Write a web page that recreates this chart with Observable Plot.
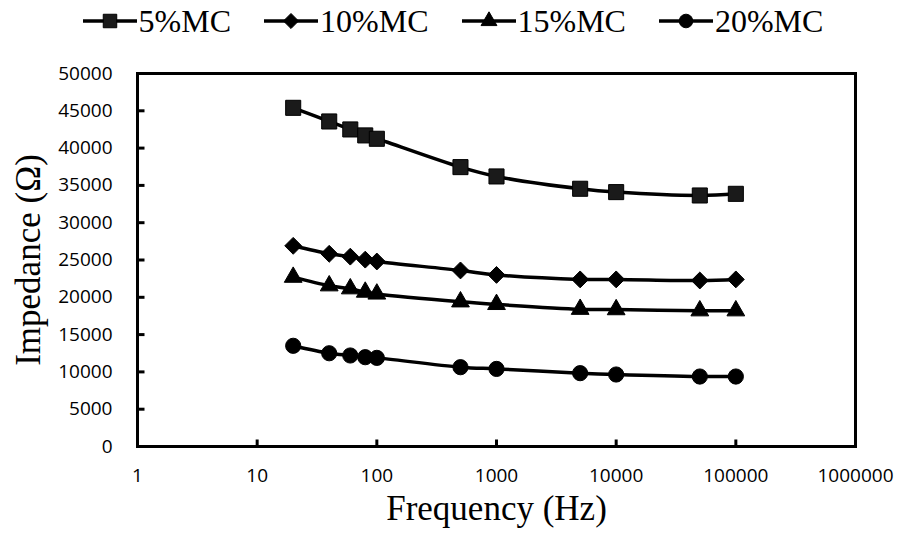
<!DOCTYPE html>
<html><head><meta charset="utf-8">
<script src="https://cdn.jsdelivr.net/npm/d3@7"></script>
<script src="https://cdn.jsdelivr.net/npm/@observablehq/plot@0.6"></script>
<style>
body{margin:0;background:#fff;}
#legend{display:flex;justify-content:center;gap:33px;height:42px;align-items:center;font-family:"Liberation Serif",serif;font-size:32px;color:#000;}
.item{display:flex;align-items:center;gap:2px;}
</style>
</head><body>
<div id="legend"></div>
<div id="chart"></div>
<script>
const freq = [20, 40, 60, 80, 100, 500, 1000, 5000, 10000, 50000, 100000];
const mc5  = [45400, 43570, 42500, 41700, 41250, 37450, 36200, 34550, 34100, 33650, 33870];
const mc10 = [26900, 25830, 25450, 25050, 24800, 23600, 23000, 22400, 22400, 22250, 22400];
const mc15 = [22700, 21550, 21150, 20700, 20450, 19400, 19050, 18400, 18350, 18200, 18200];
const mc20 = [13500, 12500, 12200, 11970, 11880, 10630, 10400, 9830, 9650, 9380, 9380];
const seriesNames = ["5%MC", "10%MC", "15%MC", "20%MC"];
const seriesValues = [mc5, mc10, mc15, mc20];
const symbols = ["square", "diamond2", "triangle", "circle"];
const symbolR = [8.5, 7.6, 6.6, 7.6];
const xTicks = [1, 10, 100, 1000, 10000, 100000, 1000000];
const yTicks = d3.range(0, 50001, 5000);

const rows = seriesNames.flatMap((s, i) => freq.map((f, j) => ({series: s, f, z: seriesValues[i][j]})));

// legend
const legend = d3.select("#legend");
const symMap = {square: d3.symbolSquare, diamond2: d3.symbolDiamond2, triangle: d3.symbolTriangle, circle: d3.symbolCircle};
seriesNames.forEach((s, i) => {
  const it = legend.append("div").attr("class", "item");
  const svg = it.append("svg").attr("width", 54).attr("height", 24);
  svg.append("line").attr("x1", 0).attr("x2", 54).attr("y1", 12).attr("y2", 12)
    .attr("stroke", "#000").attr("stroke-width", 3.5);
  svg.append("path").attr("transform", "translate(27,12)")
    .attr("d", d3.symbol(symMap[symbols[i]], Math.PI * symbolR[i] * symbolR[i] * 0.8)())
    .attr("fill", i === 0 ? "#1a1a1a" : "#000").attr("stroke", "#000").attr("stroke-width", 1);
  it.append("span").text(s);
});

// inward tick glyphs
const tickRight = {draw(ctx) { ctx.moveTo(0, 0); ctx.lineTo(7, 0); }};
const tickUp = {draw(ctx) { ctx.moveTo(0, 0); ctx.lineTo(0, -7); }};

const marks = [
  Plot.frame({stroke: "#000", strokeWidth: 3}),
  Plot.dot(yTicks, {x: () => xTicks[0], y: d => d, symbol: tickRight, stroke: "#000", strokeWidth: 3, fill: "none"}),
  Plot.dot(xTicks, {x: d => d, y: () => yTicks[0], symbol: tickUp, stroke: "#000", strokeWidth: 3, fill: "none"}),
  Plot.axisY({ticks: yTicks, tickSize: 0, tickPadding: 25, fontSize: 19, fontFamily: "Open Sans", label: null, tickFormat: d => String(d)}),
  Plot.axisX({ticks: xTicks, tickSize: 0, tickPadding: 22, fontSize: 19, fontFamily: "Open Sans", label: null, tickFormat: d3.format("d")}),
  Plot.line(rows, {x: "f", y: "z", z: "series", stroke: "#000", strokeWidth: 3.5, curve: "catmull-rom"}),
];
seriesNames.forEach((s, i) => {
  marks.push(Plot.dot(rows.filter(d => d.series === s), {x: "f", y: "z", symbol: () => symbols[i], r: symbolR[i], fill: i === 0 ? "#1a1a1a" : "#000", stroke: "#000", strokeWidth: 1}));
});
marks.push(Plot.text(["Frequency (Hz)"], {frameAnchor: "bottom", lineAnchor: "middle", textAnchor: "middle", dy: 62, fontSize: 35, fontFamily: "Liberation Serif", fill: "#000"}));
marks.push(Plot.text(["Impedance (Ω)"], {frameAnchor: "left", lineAnchor: "middle", textAnchor: "middle", dx: -109, rotate: -90, fontSize: 35, fontFamily: "Liberation Serif", fill: "#000"}));

const chart = Plot.plot({
  width: 906, height: 504,
  marginTop: 31, marginBottom: 100, marginLeft: 137, marginRight: 51,
  style: {background: "#fff", color: "#000", overflow: "visible"},
  x: {type: "log", domain: [1, 1000000]},
  y: {domain: [0, 50000]},
  marks
});
document.getElementById("chart").appendChild(chart);
</script>
</body></html>
